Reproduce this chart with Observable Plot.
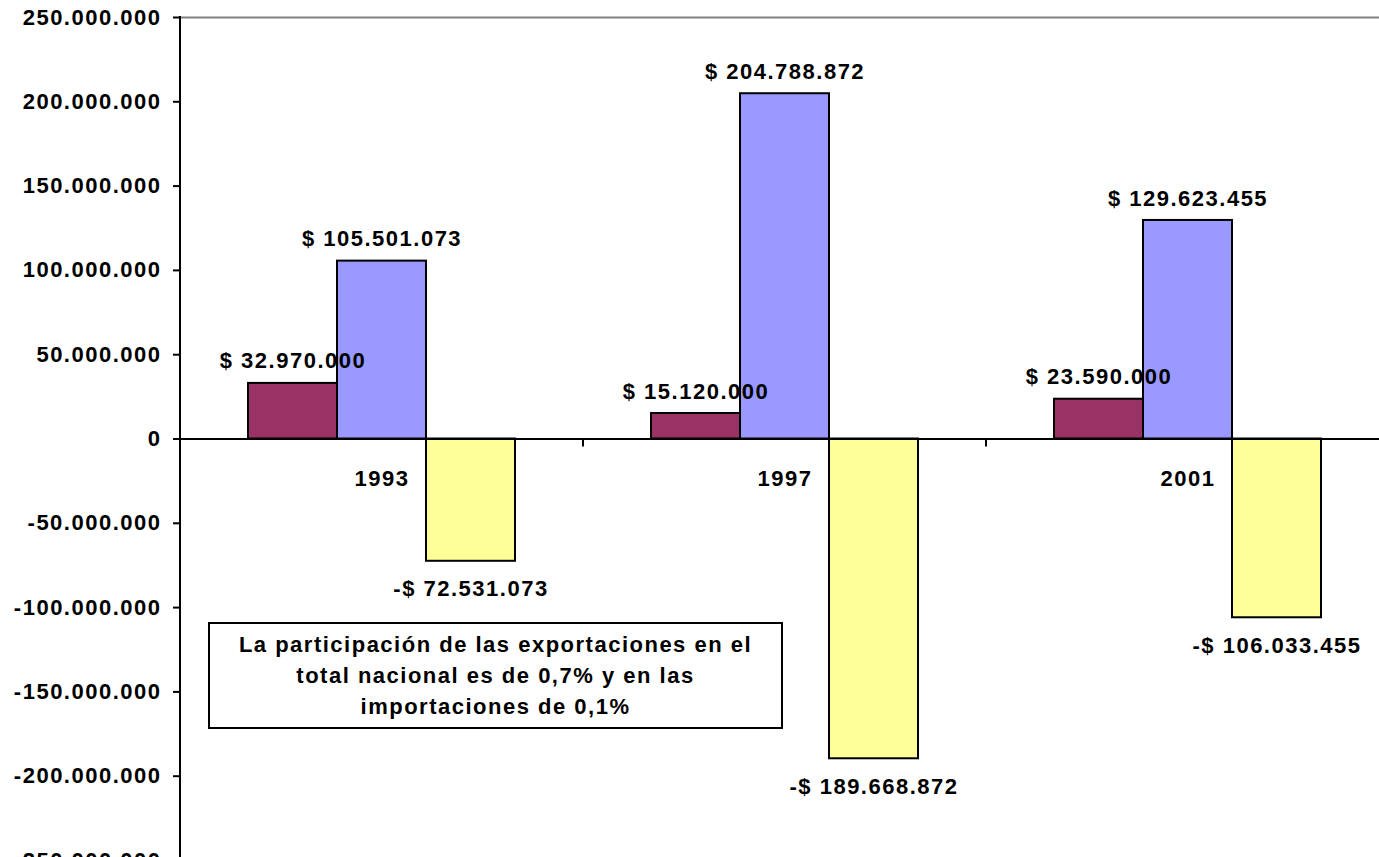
<!DOCTYPE html>
<html>
<head>
<meta charset="utf-8">
<script src="https://cdn.jsdelivr.net/npm/d3@7"></script>
<script src="https://cdn.jsdelivr.net/npm/@observablehq/plot@0.6"></script>
<style>
  html, body { margin: 0; padding: 0; background: #fff; overflow: hidden; }
  #wrap { position: relative; width: 1379px; height: 857px; overflow: hidden; }
  #chart svg { max-width: none !important; display: block; }
  #note {
    position: absolute; left: 208px; top: 622px; width: 575px; height: 107px;
    box-sizing: border-box; border: 2px solid #000; background: #fff;
    display: flex; align-items: center; justify-content: center; text-align: center;
    font-family: "Liberation Sans", Arial, sans-serif; font-weight: bold; font-size: 22px;
    letter-spacing: 1.5px; line-height: 31px; color: #000;
  }
</style>
</head>
<body>
<div id="wrap">
  <div id="chart"></div>
  <div id="note">La participación de las exportaciones en el<br>total nacional es de 0,7% y en las<br>importaciones de 0,1%</div>
</div>
<script>
// Data
const years = ["1993", "1997", "2001"];
const series = ["Exportaciones", "Importaciones", "Balanza"];
const exportaciones = [32970000, 15120000, 23590000];
const importaciones = [105501073, 204788872, 129623455];
const balanza = [-72531073, -189668872, -106033455];
const yTicks = [-250000000, -200000000, -150000000, -100000000, -50000000, 0, 50000000, 100000000, 150000000, 200000000, 250000000];
const colors = ["#993366", "#9999FF", "#FFFF99"];

const valuesBySeries = [exportaciones, importaciones, balanza];
const data = [];
years.forEach((yr, i) => {
  series.forEach((s, j) => data.push({year: yr, series: s, value: valuesBySeries[j][i]}));
});

const loc = d3.formatLocale({decimal: ",", thousands: ".", grouping: [3], currency: ["$ ", ""], minus: "-"});
const fmtAxis = loc.format(",.0f");
const fmtMoney = loc.format("$,.0f");

const chart = Plot.plot({
  width: 1392,
  height: 870,
  marginLeft: 180,
  marginRight: 3,
  marginTop: 17,
  marginBottom: 10,
  style: {fontFamily: "'Liberation Sans', Arial, sans-serif", fontSize: "22px", fontWeight: "bold", letterSpacing: "1.5px", color: "#000", background: "#fff", maxWidth: "none"},
  fx: {domain: years, padding: 0, axis: null},
  x: {domain: series, paddingInner: 0, paddingOuter: 0.755, axis: null},
  y: {domain: [-250000000, 250000000], axis: null},
  color: {domain: series, range: colors},
  marks: [
    Plot.ruleY([250000000], {stroke: "#808080", strokeWidth: 2}),
    Plot.barY(data, {fx: "year", x: "series", y: "value", fill: "series", stroke: "#000", strokeWidth: 2}),
    Plot.ruleY([0], {stroke: "#000", strokeWidth: 2}),
    Plot.axisY({ticks: yTicks, tickFormat: fmtAxis, tickSize: 7, tickPadding: 12, strokeWidth: 2, fill: "#000", label: null}),
    Plot.text(data.filter(d => d.value >= 0), {fx: "year", x: "series", y: "value", text: d => fmtMoney(d.value), dy: -22, fill: "#000"}),
    Plot.text(data.filter(d => d.value < 0), {fx: "year", x: "series", y: "value", text: d => fmtMoney(d.value), dy: 28, fill: "#000"}),
    Plot.text(years, {fx: d => d, y: d => 0, text: d => d, dy: 40, fill: "#000"})
  ]
});
document.getElementById("chart").appendChild(chart);

// Axis line and category boundary ticks, placed through the chart's own scales
const ys = chart.scale("y");
const fxs = chart.scale("fx");
const svg = d3.select(chart);
const g = svg.append("g").attr("stroke", "#000").attr("stroke-width", 2);
const x0 = fxs.apply(years[0]);
g.append("line").attr("x1", x0).attr("x2", x0).attr("y1", ys.apply(250000000) - 1).attr("y2", ys.apply(-250000000) + 10);
years.forEach(yr => {
  const xb = fxs.apply(yr);
  g.append("line").attr("x1", xb).attr("x2", xb).attr("y1", ys.apply(0)).attr("y2", ys.apply(0) + 8);
});
</script>
</body>
</html>
